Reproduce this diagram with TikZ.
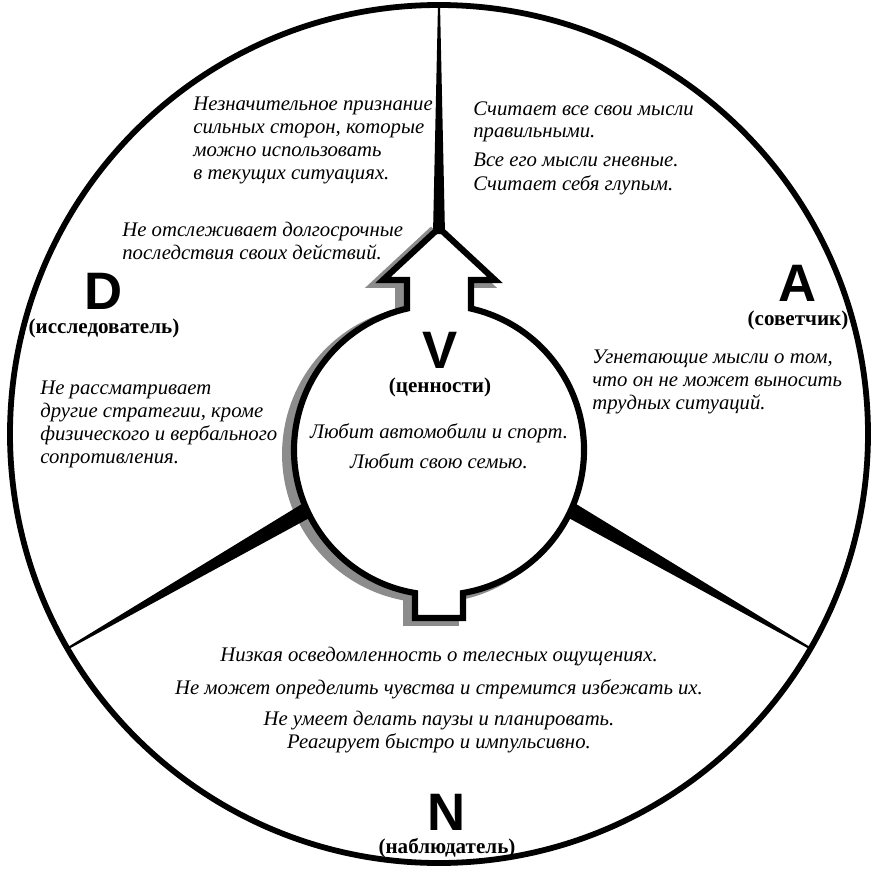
\documentclass[tikz,border=0pt]{standalone}
\usepackage{fontspec}
\setmainfont{Liberation Serif}
\newfontfamily\lettersans{Liberation Sans}
\usepackage{tikz}
\usetikzlibrary{positioning}
\definecolor{ShadowGray}{RGB}{140, 140, 140}
\tikzset{
  note/.style={font=\itshape\fontsize{11.8}{13}\selectfont, align=left,
    inner sep=0pt, anchor=north west},
  cnote/.style={font=\itshape\fontsize{11.8}{13}\selectfont, align=center,
    inner sep=0pt, anchor=north},
  bigletter/.style={font=\lettersans\bfseries\fontsize{30}{31}\selectfont,
    inner sep=0pt},
  role/.style={font=\bfseries\fontsize{12}{13}\selectfont, inner sep=0pt},
  spoke/.style={fill=black},
}
% outline of the value circle with arrow and notch
\newcommand{\valueshape}{(0,206) -- (56,154) -- (32,154) -- (32,125.43)
  arc[start angle=77.25, end angle=-80.47, radius=145]
  -- (24,-184) -- (-24,-184) -- (-24,-159)
  arc[start angle=260.47, end angle=102.75, radius=145]
  -- (-32,154) -- (-56,154) -- cycle}

\begin{document}
\begin{tikzpicture}[x=0.02cm, y=0.02cm]
  \useasboundingbox (-439,-435) rectangle (439,434);
  \draw[line width=3.3pt] (0,0) circle[radius=429];
  % shadow, then the shape itself
  \path[fill=ShadowGray, draw=ShadowGray, line width=4.5pt,
        shift={(-8,-4)}] \valueshape;
  \path[fill=white, draw=black, line width=3.5pt, line join=miter]
    \valueshape;
  \fill[spoke, rotate=90] (200,-6) -- (430,-1) -- (430,1) -- (200,6) -- cycle;
  \fill[spoke, rotate=-30] (150,-8) -- (430,-1) -- (430,1) -- (150,8) -- cycle;
  \fill[spoke, rotate=210] (150,-8) -- (430,-1) -- (430,1) -- (150,8) -- cycle;

  \node[bigletter] (dlet) at (-335,143) {D};
  \node[role, below=0.18cm of dlet] (dlab) {(исследователь)};
  \node[bigletter] (alet) at (359,151) {A};
  \node[role, below=0.18cm of alet] (alab) {(советчик)};
  \node[bigletter] (nlet) at (8,-378) {N};
  \node[role, below=0.15cm of nlet] (nlab) {(наблюдатель)};
  \node[bigletter] (vlet) at (1,84) {V};
  \node[role, below=0.18cm of vlet] (vlab) {(ценности)};

  \node[note] (strengths) at (-246,337)
    {Незначительное признание\\сильных сторон, которые\\можно использовать\\в текущих ситуациях.};
  \node[note] (longterm) at (-317,212)
    {Не отслеживает долгосрочные\\последствия своих действий.};
  \node[note] (strategy) at (-399,53)
    {Не рассматривает\\другие стратегии, кроме\\физического и вербального\\сопротивления.};
  \node[note] (thoughts) at (34,333)
    {Считает все свои мысли\\правильными.\\[3.5pt]Все его мысли гневные.\\[0.5pt]Считает себя глупым.};
  \node[note] (oppress) at (153,84)
    {Угнетающие мысли о том,\\что он не может выносить\\трудных ситуаций.};
  \node[cnote] (loves) at (0,11)
    {Любит автомобили и спорт.\\[4pt]Любит свою семью.};
  \node[cnote] (body) at (0,-213)
    {Низкая осведомленность о телесных ощущениях.\\[5.5pt]Не может определить чувства и стремится избежать их.\\[5pt]Не умеет делать паузы и планировать.\\Реагирует быстро и импульсивно.};
\end{tikzpicture}
\end{document}
